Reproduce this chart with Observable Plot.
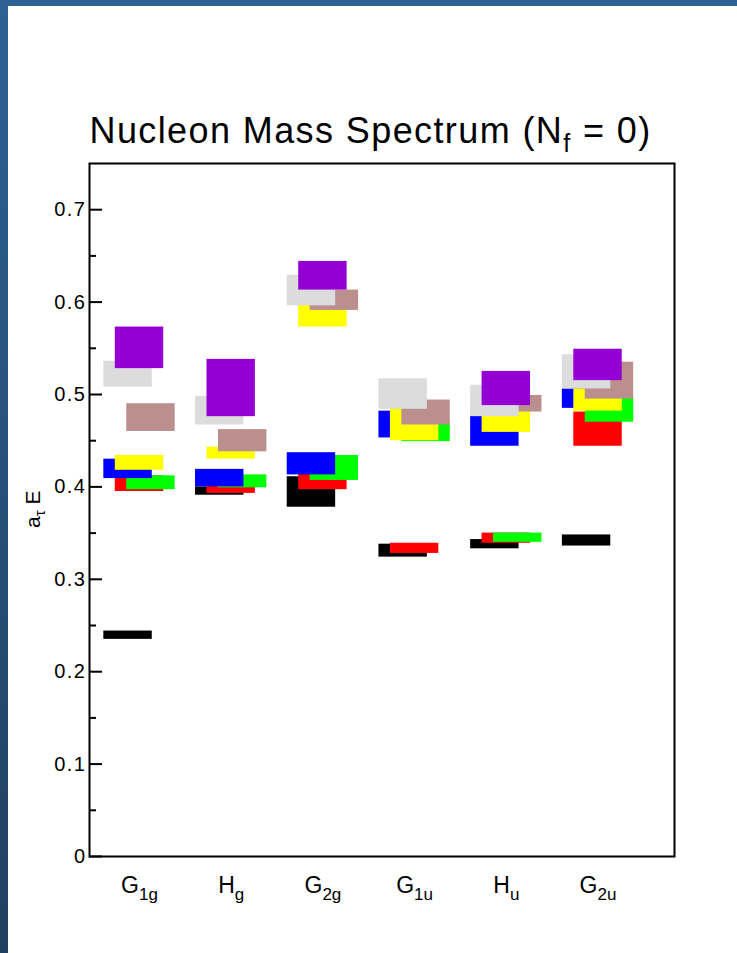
<!DOCTYPE html>
<html>
<head>
<meta charset="utf-8">
<script src="https://cdn.jsdelivr.net/npm/d3@7"></script>
<script src="https://cdn.jsdelivr.net/npm/@observablehq/plot@0.6"></script>
<style>
  html, body { margin: 0; padding: 0; background: #fff; }
  #page { position: relative; width: 737px; height: 953px; background: #fff; overflow: hidden; }
  #chart { position: absolute; left: 0; top: 0; }
  .band-top { position: absolute; left: 0; top: 0; width: 737px; height: 6px; background: #2e6193; }
  .band-left { position: absolute; left: 0; top: 0; width: 8px; height: 953px; background: linear-gradient(#2e6193, #20405f); }
</style>
</head>
<body>
<div id="page">
  <div id="chart"></div>
  <div class="band-top"></div>
  <div class="band-left"></div>
</div>
<script>
// ---- data ----
const categories = ["G1g", "Hg", "G2g", "G1u", "Hu", "G2u"];
const labelMain  = ["G", "H", "G", "G", "H", "G"];
const labelSub   = ["1g", "g", "2g", "1u", "u", "2u"];
const yMajorTicks = [0, 0.1, 0.2, 0.3, 0.4, 0.5, 0.6, 0.7];
const yMinorTicks = [0.05, 0.15, 0.25, 0.35, 0.45, 0.55, 0.65];
const titleText = "Nucleon Mass Spectrum (N";
const titleSub = "f";
const titleTail = " = 0)";
const yLabelMain = "a";
const yLabelSub = "τ";
const yLabelTail = " E";

// energy bands [low, high] per category (G1g, Hg, G2g, G1u, Hu, G2u)
const levelBlack  = [[0.235, 0.244], [0.391, 0.400], [0.378, 0.411], [0.324, 0.338], [0.333, 0.343], [0.336, 0.348]];
const levelRed    = [[0.395, 0.412], [0.393, 0.403], [0.397, 0.415], [0.328, 0.339], [0.339, 0.350], [0.444, 0.481]];
const levelGreen  = [[0.397, 0.412], [0.399, 0.413], [0.407, 0.434], [0.449, 0.470], [0.340, 0.350], [0.470, 0.497]];
const levelBlue   = [[0.409, 0.430], [0.400, 0.419], [0.413, 0.437], [0.453, 0.482], [0.444, 0.477], [0.485, 0.506]];
const levelYellow = [[0.418, 0.434], [0.430, 0.443], [0.573, 0.597], [0.450, 0.485], [0.459, 0.483], [0.482, 0.506]];
const levelBrown  = [[0.460, 0.490], [0.438, 0.462], [0.591, 0.613], [0.467, 0.494], [0.481, 0.499], [0.495, 0.535]];
const levelGray   = [[0.508, 0.536], [0.467, 0.498], [0.596, 0.629], [0.484, 0.517], [0.476, 0.510], [0.506, 0.543]];
const levelPurple = [[0.528, 0.573], [0.476, 0.538], [0.613, 0.644], null,           [0.488, 0.525], [0.515, 0.549]];

// ---- styles (draw order bottom -> top) ----
const levels = [
  {values: levelBlack,  fill: "#000000", slot: -1},
  {values: levelRed,    fill: "#ff0000", slot: 0},
  {values: levelGreen,  fill: "#00ff00", slot: 1},
  {values: levelBlue,   fill: "#0000ff", slot: -1},
  {values: levelYellow, fill: "#ffff00", slot: 0},
  {values: levelBrown,  fill: "#bc8f8f", slot: 1},
  {values: levelGray,   fill: "#dcdcdc", slot: -1},
  {values: levelPurple, fill: "#9400d3", slot: 0}
];
const slotStep = 0.125;
const halfWidth = 0.264;

const rectMarks = levels.map(lv => {
  const rows = [];
  lv.values.forEach((v, i) => { if (v) rows.push({cat: i + 1, lo: v[0], hi: v[1]}); });
  return Plot.rect(rows, {
    x1: d => d.cat + lv.slot * slotStep - halfWidth,
    x2: d => d.cat + lv.slot * slotStep + halfWidth,
    y1: "lo", y2: "hi",
    fill: lv.fill
  });
});

const fontFamily = '"Liberation Sans", Arial, Helvetica, sans-serif';
const yFmt = d => d === 0 ? "0" : d.toFixed(1);
const plot = Plot.plot({
  width: 737,
  height: 953,
  marginLeft: 89,
  marginRight: 63,
  marginTop: 163,
  marginBottom: 97,
  style: {fontFamily, background: "transparent", color: "black"},
  x: {type: "linear", domain: [0.4547, 6.834], axis: null},
  y: {domain: [0, 0.75], axis: null},
  marks: [
    ...rectMarks,
    Plot.axisY({ticks: yMinorTicks, tickSize: 7, dx: 7, fill: "none", strokeWidth: 2, label: null}),
    Plot.axisY({ticks: yMajorTicks, tickSize: 13, dx: 13, fill: "none", strokeWidth: 2, label: null}),
    Plot.axisY({ticks: yMajorTicks, tickSize: 0, tickPadding: 3, fontSize: 20,
                tickFormat: yFmt, label: null}),
    Plot.axisX({ticks: [1, 2, 3, 4, 5, 6], tickSize: 0, tickPadding: 20, fontSize: 23,
                tickFormat: d => categories[d - 1], label: null}),
    Plot.frame({stroke: "black", strokeWidth: 2}),
    Plot.text([titleText], {frameAnchor: "top-left", textAnchor: "start", lineAnchor: "bottom",
                dy: -21, fontSize: 36}),
    Plot.text([yLabelMain], {frameAnchor: "left", rotate: -90, dx: -56, dy: 18, fontSize: 21})
  ]
});
document.getElementById("chart").appendChild(plot);

// ---- subscripts and spacing, as real text ----
const NS = "http://www.w3.org/2000/svg";
function tspan(parent, txt, attrs) {
  const t = document.createElementNS(NS, "tspan");
  t.textContent = txt;
  for (const k in attrs) t.setAttribute(k, attrs[k]);
  parent.appendChild(t);
  return t;
}
const yLabels = yMajorTicks.map(yFmt);
plot.querySelectorAll("text").forEach(t => {
  const s = t.textContent.trim();
  const i = categories.indexOf(s);
  if (i >= 0) {
    t.textContent = "";
    tspan(t, labelMain[i], {});
    tspan(t, labelSub[i], {"font-size": 17, dy: 7});
  } else if (s === titleText) {
    t.textContent = "";
    t.setAttribute("letter-spacing", "1.4");
    tspan(t, titleText, {});
    tspan(t, titleSub, {"font-size": 25, dy: 9});
    tspan(t, titleTail, {"font-size": 36, dy: -9});
  } else if (s === yLabelMain) {
    t.textContent = "";
    tspan(t, yLabelMain, {});
    tspan(t, yLabelSub, {"font-size": 15, dy: 5});
    tspan(t, yLabelTail, {"font-size": 21, dy: -5});
  } else if (yLabels.includes(s)) {
    t.setAttribute("letter-spacing", "1.5");
  }
});
</script>
</body>
</html>
